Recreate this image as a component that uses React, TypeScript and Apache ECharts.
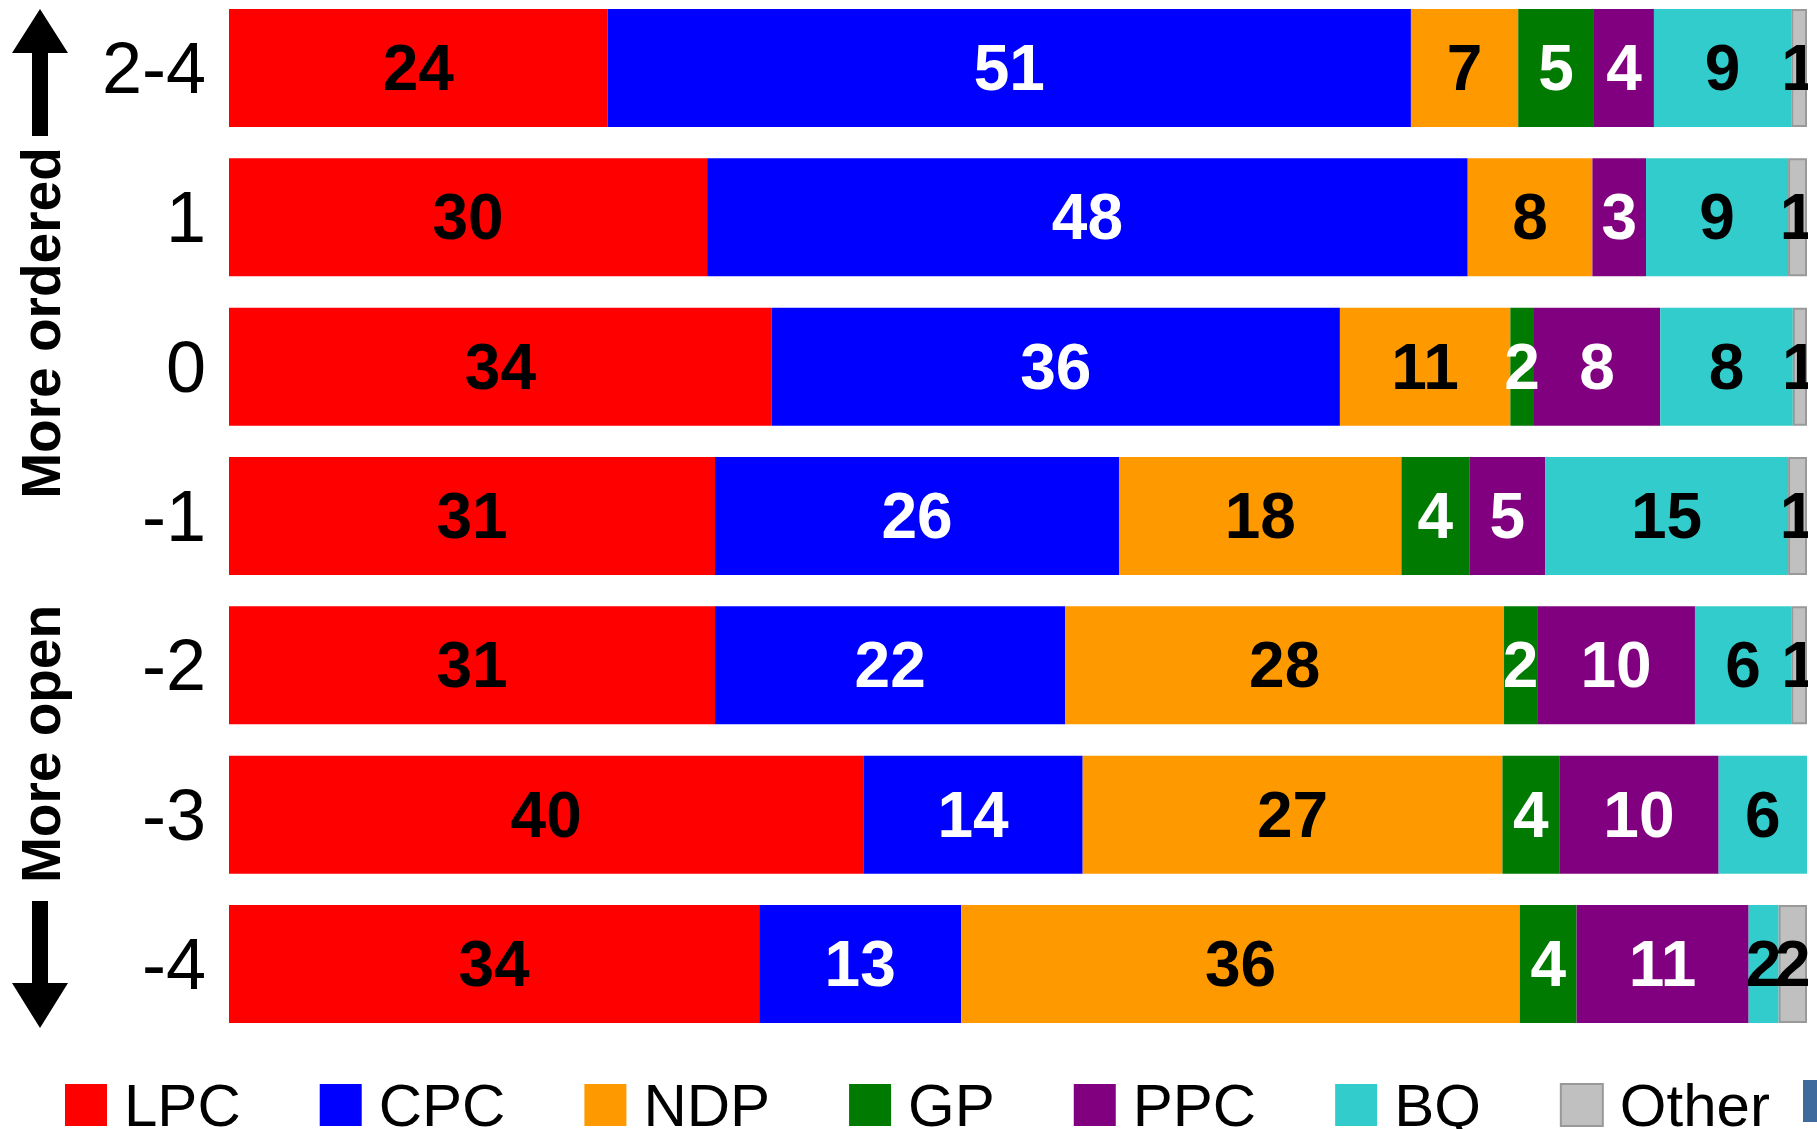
import React, { useEffect, useRef } from 'react';
import * as echarts from 'echarts';

const categories = ['2-4', '1', '0', '-1', '-2', '-3', '-4'];
const seriesNames = ['LPC', 'CPC', 'NDP', 'GP', 'PPC', 'BQ', 'Other'];
const seriesColors = ['#FF0000', '#0000FF', '#FF9900', '#007A00', '#800080', '#33CCCC', '#C0C0C0'];
const labelColors = ['#000', '#fff', '#000', '#fff', '#fff', '#000', '#000'];

// bar widths (share)
const LPC = [24.0, 30.3, 34.4, 30.8, 30.8, 40.2, 33.6];
const CPC = [50.9, 48.2, 36.0, 25.6, 22.2, 13.9, 12.8];
const NDP = [6.8, 7.9, 10.8, 17.9, 27.8, 26.6, 35.4];
const GP = [4.8, 0, 1.5, 4.3, 2.1, 3.6, 3.6];
const PPC = [3.8, 3.4, 8.0, 4.8, 10.0, 10.1, 10.9];
const BQ = [8.7, 9.0, 8.4, 15.4, 6.1, 5.6, 1.9];
const Other = [1.0, 1.2, 0.9, 1.2, 1.0, 0, 1.8];

// printed labels
const LPC_labels = [24, 30, 34, 31, 31, 40, 34];
const CPC_labels = [51, 48, 36, 26, 22, 14, 13];
const NDP_labels = [7, 8, 11, 18, 28, 27, 36];
const GP_labels = [5, null, 2, 4, 2, 4, 4];
const PPC_labels = [4, 3, 8, 5, 10, 10, 11];
const BQ_labels = [9, 9, 8, 15, 6, 6, 2];
const Other_labels = [1, 1, 1, 1, 1, null, 2];

const values = [LPC, CPC, NDP, GP, PPC, BQ, Other];
const labels = [LPC_labels, CPC_labels, NDP_labels, GP_labels, PPC_labels, BQ_labels, Other_labels];

const FONT = 'Liberation Sans';

export default function App() {
  const ref = useRef<HTMLDivElement>(null);
  useEffect(() => {
    document.body.style.margin = '0';
    if (!ref.current) return;
    const chart = echarts.init(ref.current, null, { renderer: 'svg' });
    const series = seriesNames.map((name, si) => ({
      name,
      type: 'bar',
      stack: 'total',
      barWidth: 118,
      itemStyle: {
        color: seriesColors[si],
        borderColor: name === 'Other' ? '#999999' : seriesColors[si],
        borderWidth: name === 'Other' ? 2 : 0,
      },
      label: {
        show: true,
        position: 'inside',
        color: labelColors[si],
        fontFamily: FONT,
        fontWeight: 'bold',
        fontSize: 64,
        formatter: (p: any) => {
          const l = labels[si][p.dataIndex];
          return l === null || l === undefined ? '' : String(l);
        },
      },
      data: values[si].map((v) => (v === 0 ? '-' : v)),
    }));

    const arrowUp = [[40, 9], [68, 53], [48, 53], [48, 136], [32, 136], [32, 53], [12, 53]];
    const arrowDown = [[32, 901], [48, 901], [48, 983], [68, 983], [40, 1028], [12, 983], [32, 983]];

    chart.setOption({
      animation: false,
      textStyle: { fontFamily: FONT },
      grid: { left: 229, right: 10, top: 68, bottom: 165, containLabel: false },
      xAxis: { type: 'value', min: 0, max: 100, show: false },
      yAxis: {
        type: 'category',
        data: categories,
        inverse: true,
        boundaryGap: false,
        axisLine: { show: false },
        axisTick: { show: false },
        splitLine: { show: false },
        axisLabel: { fontSize: 72, color: '#000', fontFamily: FONT, margin: 23 },
      },
      legend: {
        left: 60,
        top: 1070,
        itemWidth: 42,
        itemHeight: 42,
        itemGap: 79,
        icon: 'rect',
        textStyle: { fontSize: 60, color: '#000', fontFamily: FONT, lineHeight: 50, padding: [0, 0, 0, 12] },
        data: seriesNames.map((n) =>
          n === 'Other' ? { name: n, itemStyle: { borderColor: '#999999', borderWidth: 2 } } : { name: n }
        ),
      },
      graphic: [
        { type: 'rect', shape: { x: 1808, y: 0, width: 20, height: 1040 }, style: { fill: '#fff' }, z: 100 },
        { type: 'rect', shape: { x: 1803, y: 1080, width: 42, height: 42 }, style: { fill: '#3F6A9E' }, z: 100 },
        { type: 'polygon', shape: { points: arrowUp }, style: { fill: '#000' }, z: 100 },
        { type: 'polygon', shape: { points: arrowDown }, style: { fill: '#000' }, z: 100 },
        {
          type: 'text', x: 41, y: 323, rotation: Math.PI / 2, z: 100,
          style: { text: 'More ordered', fontSize: 55, fontWeight: 'bold', fontFamily: FONT, fill: '#000', align: 'center', verticalAlign: 'middle' },
        },
        {
          type: 'text', x: 41, y: 744, rotation: Math.PI / 2, z: 100,
          style: { text: 'More open', fontSize: 55, fontWeight: 'bold', fontFamily: FONT, fill: '#000', align: 'center', verticalAlign: 'middle' },
        },
      ],
      series,
    });
    return () => chart.dispose();
  }, []);
  return <div ref={ref} style={{ width: 1817, height: 1129 }} />;
}
